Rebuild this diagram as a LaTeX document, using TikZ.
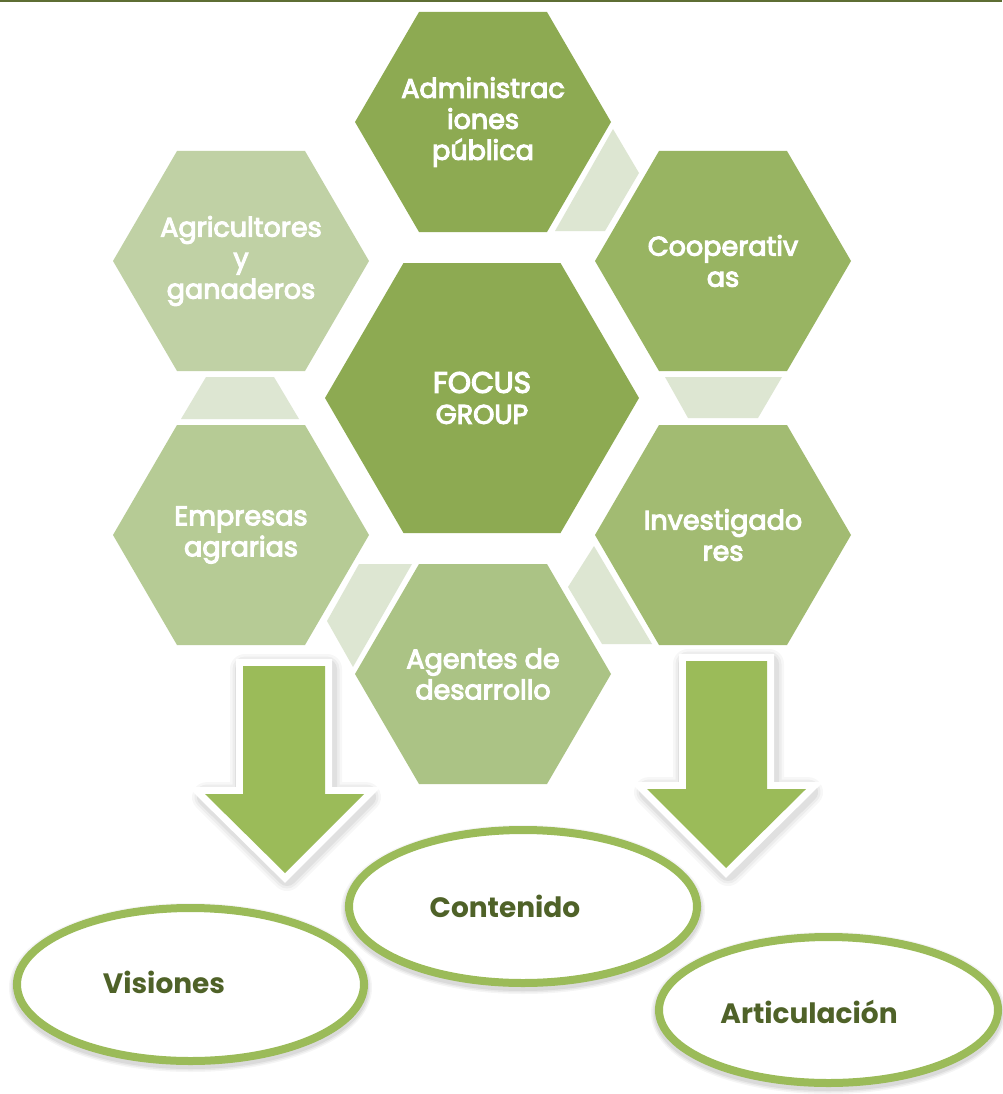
\documentclass[tikz,border=0pt]{standalone}
\usepackage{fontspec}
\setmainfont{Poppins}
\newfontfamily\hexfont{Poppins}[FakeBold=4]
\usetikzlibrary{shapes.geometric}
\definecolor{topline}{HTML}{5E6E34}
\definecolor{hA}{HTML}{8DAA52}
\definecolor{hB}{HTML}{98B462}
\definecolor{hC}{HTML}{A2BB72}
\definecolor{hD}{HTML}{ABC385}
\definecolor{hE}{HTML}{B6CB95}
\definecolor{hF}{HTML}{C0D1A5}
\definecolor{conn}{HTML}{DDE6D2}
\definecolor{arrowgreen}{HTML}{9BBB59}
\definecolor{ovaltext}{HTML}{4F6228}
\newcommand\myhex[7]{%
  \fill[#6] ({#2-#4},#3) -- ({#2-#4/2},{#3-#5}) -- ({#2+#4/2},{#3-#5}) -- ({#2+#4},#3) -- ({#2+#4/2},{#3+#5}) -- ({#2-#4/2},{#3+#5}) -- cycle;
  \node[hextext] (#1) at (#2,#3) {#7};}
\begin{document}
\begin{tikzpicture}[x=1pt,y=-1pt,
  hextext/.style={text=white,align=center,inner sep=0pt,font=\hexfont\fontsize{27}{31}\selectfont},
  connector/.style={fill=conn},
  bigarrow/.style={fill=arrowgreen},
  arrowrim/.style={fill=white,draw=white,line width=14pt,line join=miter},
  oval/.style={ellipse,draw=arrowgreen,line width=8pt,fill=white,inner sep=0pt},
  ovaltxt/.style={text=ovaltext,anchor=base,inner sep=0pt,font=\bfseries\fontsize{28}{34}\selectfont},
  softshadow/.style={black,opacity=#1,line join=round}
]
\useasboundingbox (0,0) rectangle (1002,1094);
\fill[white] (0,0) rectangle (1002,1094);
\fill[topline] (0,0) rectangle (1002,2.5);

% hexagons
\myhex{adm}{483}{122}{128}{110}{hA}{Administrac\\iones\\pública}
\myhex{agr}{241}{261}{128}{110}{hF}{Agricultores\\y\\ganaderos}
\myhex{coop}{723}{261}{128}{110}{hB}{Cooperativ\\as}
\myhex{focus}{482}{398}{157}{135}{hA}{\fontsize{29.5}{32}\selectfont FOCUS\\GROUP}
\myhex{emp}{241}{535}{128}{110}{hE}{Empresas\\agrarias}
\myhex{inv}{723}{535}{128}{110}{hC}{Investigado\\res}
\myhex{age}{483}{674}{128}{110}{hD}{Agentes de\\desarrollo}

% connectors between hexagons
\fill[connector] (613,129) -- (639,173) -- (605,231) -- (555,231) -- cycle;
\fill[connector] (665,377) -- (782,377) -- (758,418) -- (688,418) -- cycle;
\fill[connector] (594,546) -- (652,644) -- (602,644) -- (568,587) -- cycle;
\fill[connector] (359,564) -- (412,564) -- (353,667) -- (327,621) -- cycle;
\fill[connector] (181,419) -- (299,419) -- (274,377) -- (206,377) -- cycle;

% arrows: soft shadow, white rim, green body
\foreach \w/\o in {30/0.03,25/0.04,20/0.05}{
  \draw[softshadow=\o,line width=\w pt,shift={(2,3)}] (243,666) -- (325,666) -- (325,794) -- (364,794) -- (285,873) -- (205,794) -- (243,794) -- cycle;
  \draw[softshadow=\o,line width=\w pt,shift={(2,3)}] (686,661) -- (767,661) -- (767,789) -- (806,789) -- (726,868) -- (647,789) -- (686,789) -- cycle;
}
\path[arrowrim] (243,666) -- (325,666) -- (325,794) -- (364,794) -- (285,873) -- (205,794) -- (243,794) -- cycle;
\path[arrowrim] (686,661) -- (767,661) -- (767,789) -- (806,789) -- (726,868) -- (647,789) -- (686,789) -- cycle;
\fill[bigarrow] (243,666) -- (325,666) -- (325,794) -- (364,794) -- (285,873) -- (205,794) -- (243,794) -- cycle;
\fill[bigarrow] (686,661) -- (767,661) -- (767,789) -- (806,789) -- (726,868) -- (647,789) -- (686,789) -- cycle;

% ovals with soft shadows
\foreach \w/\o in {16/0.04,13/0.05,10/0.06}{
  \draw[softshadow=\o,line width=\w pt] (190.5,987.5) ellipse [x radius=173.5pt, y radius=76.5pt];
  \draw[softshadow=\o,line width=\w pt] (523,909.5) ellipse [x radius=174pt, y radius=76.5pt];
  \draw[softshadow=\o,line width=\w pt] (828.5,1013) ellipse [x radius=169.5pt, y radius=73pt];
}
\node[oval,minimum width=347pt,minimum height=153pt] (vis) at (190.5,984.5) {};
\node[oval,minimum width=348pt,minimum height=153pt] (con) at (523,906.5) {};
\node[oval,minimum width=339pt,minimum height=146pt] (art) at (828.5,1010) {};
\node[ovaltxt] (vist) at (164,993) {Visiones};
\node[ovaltxt] (cont) at (505,917) {Contenido};
\node[ovaltxt] (artt) at (809,1023) {Articulación};
\end{tikzpicture}
\end{document}
